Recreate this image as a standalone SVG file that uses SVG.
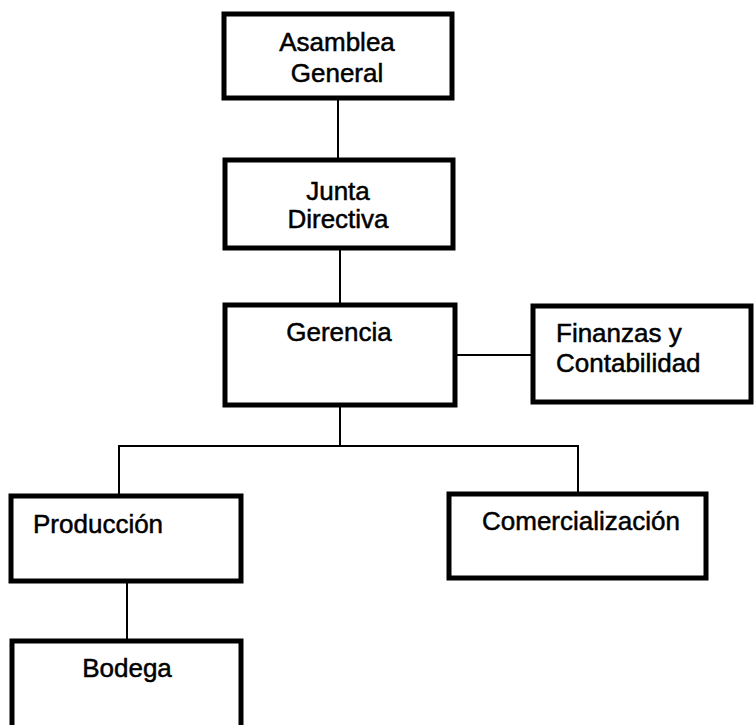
<svg xmlns="http://www.w3.org/2000/svg" width="755" height="725" viewBox="0 0 755 725">
<style>
.box{fill:#fff;stroke:#000;stroke-width:5}
.t{font-family:"Liberation Sans",Arial,sans-serif;font-size:26px;fill:#000;stroke:#000;stroke-width:0.5}
.c{text-anchor:middle}
.ln{stroke:#000;stroke-width:2;fill:none}
</style>
<rect width="755" height="725" fill="#fff"/>
<g id="connectors">
<line class="ln" x1="338" y1="100" x2="338" y2="160"/>
<line class="ln" x1="340" y1="250" x2="340" y2="305"/>
<line class="ln" x1="457" y1="355" x2="531" y2="355"/>
<polyline class="ln" points="340,407 340,446"/>
<polyline class="ln" points="119,494 119,446 578,446 578,492"/>
<line class="ln" x1="127" y1="583" x2="127" y2="639"/>
</g>
<g id="asamblea">
<rect class="box" x="224" y="14" width="228" height="84"/>
<text class="t c" x="337" y="51">Asamblea</text>
<text class="t c" x="337" y="82">General</text>
</g>
<g id="junta">
<rect class="box" x="225" y="160" width="228" height="88"/>
<text class="t c" x="338" y="200">Junta</text>
<text class="t c" x="338" y="228">Directiva</text>
</g>
<g id="gerencia">
<rect class="box" x="225" y="305" width="230" height="100"/>
<text class="t c" x="339" y="341">Gerencia</text>
</g>
<g id="finanzas">
<rect class="box" x="533" y="306" width="218" height="96"/>
<text class="t" x="556" y="342">Finanzas y</text>
<text class="t" x="556" y="372">Contabilidad</text>
</g>
<g id="produccion">
<rect class="box" x="11" y="496" width="230" height="85"/>
<text class="t" x="33" y="533">Producción</text>
</g>
<g id="comercializacion">
<rect class="box" x="449" y="494" width="257" height="84"/>
<text class="t c" x="581" y="530">Comercialización</text>
</g>
<g id="bodega">
<rect class="box" x="12" y="641" width="229" height="100"/>
<text class="t c" x="127" y="677">Bodega</text>
</g>
</svg>
